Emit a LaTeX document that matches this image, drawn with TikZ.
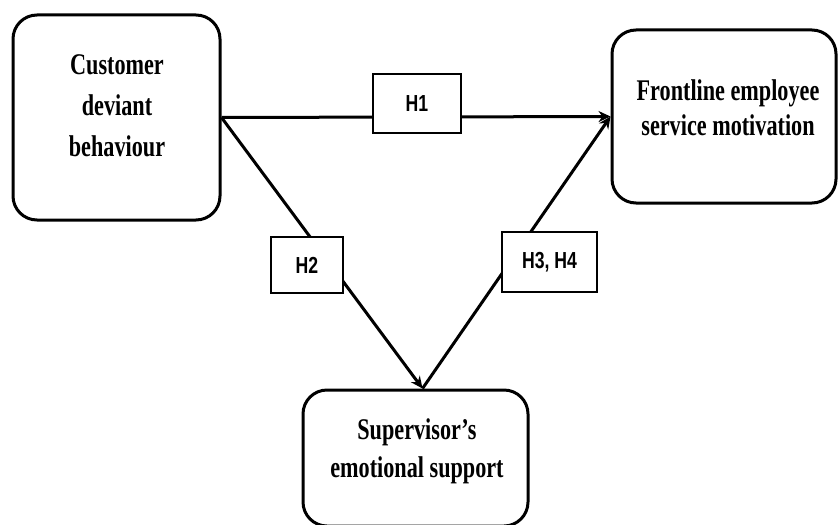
\documentclass[tikz,border=0pt]{standalone}
\usepackage{fontspec}
\setmainfont{Liberation Serif}[FakeStretch=0.74]
\newfontfamily\hypfont{Liberation Sans}[FakeStretch=0.76]
\usetikzlibrary{arrows.meta}

\begin{document}
\begin{tikzpicture}[x=0.5pt, y=-0.5pt,
  construct/.style={rectangle, rounded corners=12pt, draw=black, line width=1.5pt, fill=white},
  txt/.style={align=center, font=\bfseries\fontsize{15}{20}\selectfont},
  hyp/.style={rectangle, draw=black, line width=1.3pt, fill=white, font=\hypfont\bfseries\fontsize{11.6}{14}\selectfont},
  arr/.style={-{Stealth[length=6pt, width=5.5pt]}, line width=1.5pt}
]
  \useasboundingbox (0,0) rectangle (838,524);

  \node[construct, minimum width=103.5pt, minimum height=102.5pt] (cdb) at (116.5,117.5) {};
  \node[construct, minimum width=112pt, minimum height=86.5pt] (fsm) at (724,116.5) {};
  \node[construct, minimum width=112.5pt, minimum height=68pt] (ses) at (415.5,458) {};

  \node[txt, font=\bfseries\fontsize{15}{20.5}\selectfont] (cdbtxt) at (117,106) {Customer\\deviant\\behaviour};
  \node[txt, font=\bfseries\fontsize{15}{17.5}\selectfont] (fsmtxt) at (728,108) {Frontline employee\\service motivation};
  \node[txt, font=\bfseries\fontsize{15}{19}\selectfont] (sestxt) at (417,451) {Supervisor’s\\emotional support};

  \draw[arr] (cdb.east) -- (fsm.west);
  \draw[arr] (cdb.east) -- ([xshift=3.5pt]ses.north);
  \draw[arr] ([xshift=3.5pt]ses.north) -- (fsm.west);

  \node[hyp, minimum width=44pt, minimum height=29.5pt] (h1) at (417,103.5) {H1};
  \node[hyp, minimum width=36pt, minimum height=28pt] (h2) at (307,265) {H2};
  \node[hyp, minimum width=47.5pt, minimum height=30pt] (h34) at (549.5,262) {H3, H4};
\end{tikzpicture}
\end{document}
